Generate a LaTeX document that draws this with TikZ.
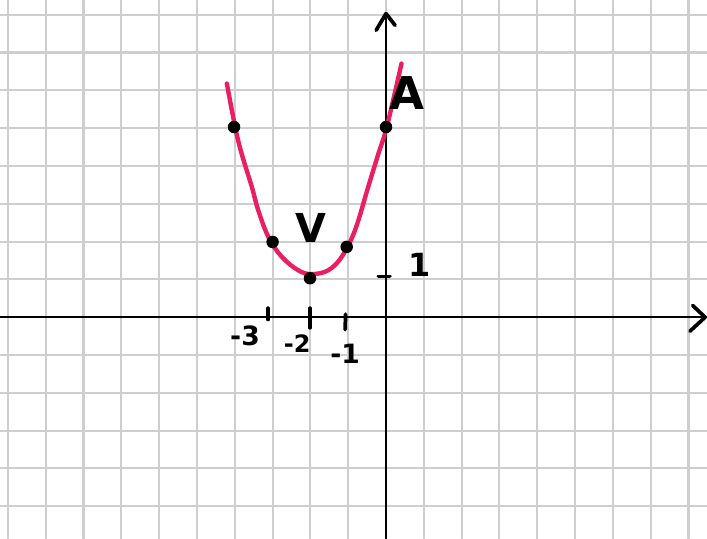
\documentclass[tikz,border=0pt]{standalone}
\usepackage{fontspec}
\setsansfont{DejaVu Sans}
\usetikzlibrary{calc}

\definecolor{curvepink}{RGB}{233,30,99}
\definecolor{gridgray}{RGB}{206,206,206}

\begin{document}
\begin{tikzpicture}[line cap=round, line join=round,
    dot/.style={circle, fill=black, inner sep=0pt, minimum size=0.33cm},
    lbl/.style={font=\sffamily\bfseries, inner sep=0pt},
    axis/.style={black, line width=1.8pt}]

        \def\xmin{-10.21} % left edge of the squared paper
        \def\xmax{8.49}
        \def\ymin{-5.85}
        \def\ymax{8.39}

        \useasboundingbox (\xmin,\ymin) rectangle (\xmax,\ymax);
        \fill[white] (\xmin,\ymin) rectangle (\xmax,\ymax);
        \draw[gridgray, line width=1.6pt] (\xmin,\ymin) grid (\xmax,\ymax);

        % axes
        \coordinate (xstart) at (\xmin,0);
        \coordinate (xtip) at (8.44,0);
        \coordinate (xarm1) at (8.11,0.31);
        \coordinate (xarm2) at (8.04,-0.37);
        \coordinate (ystart) at (0,\ymin);
        \coordinate (ytip) at (0,8.03);
        \coordinate (yarm1) at (-0.26,7.59);
        \coordinate (yarm2) at (0.24,7.72);

        \draw[axis] (xstart) -- (xtip);
        \draw[axis] (ystart) -- (ytip);
        \draw[axis, line width=2.8pt] (xarm1) -- (xtip) -- (xarm2);
        \draw[axis, line width=2.8pt] (yarm1) -- (ytip) -- (yarm2);

        % ticks
        \coordinate (t3a) at (-3.12,0.24);
        \coordinate (t3b) at (-3.12,-0.06);
        \coordinate (t2a) at (-2.01,0.24);
        \coordinate (t2b) at (-2.01,-0.28);
        \coordinate (t1a) at (-1.07,0.08);
        \coordinate (t1b) at (-1.08,-0.33);
        \coordinate (ty1a) at (-0.2,1.08);
        \coordinate (ty1b) at (0.1,1.08);

        \foreach \a/\b in {t3a/t3b, t2a/t2b, t1a/t1b, ty1a/ty1b} {
          \draw[axis, line width=2.8pt] (\a) -- (\b);
        }

        \node[lbl, font=\sffamily\bfseries\fontsize{20}{20}\selectfont] (m3) at (-3.73,-0.48) {-3};
        \node[lbl, font=\sffamily\bfseries\fontsize{18}{18}\selectfont] (m2) at (-2.35,-0.71) {-2};
        \node[lbl, font=\sffamily\bfseries\fontsize{20}{20}\selectfont] (m1) at (-1.08,-0.98) {-1};
        \node[lbl, font=\sffamily\bfseries\fontsize{24}{24}\selectfont] (one) at (0.9,1.38) {1};

        % the parabola, drawn by hand
        \draw[curvepink, line width=3.3pt] plot[smooth, tension=0.6] coordinates {
          (-4.21,6.18) (-3.99,5.03) (-3.82,4.33) (-3.55,3.45) (-3.38,2.83)
          (-3.11,2.12) (-2.76,1.60) (-2.32,1.24) (-1.97,1.14) (-1.53,1.24)
          (-1.17,1.60) (-0.82,2.30) (-0.47,3.45) (-0.20,4.33) (0.02,5.03)
          (0.41,6.71)};

        \node[dot] (pl) at (-4.02,5.03) {};
        \node[dot] (pa) at (0,5.03) {};
        \node[dot] (pm3) at (-3.0,1.99) {};
        \node[dot] (pm1) at (-1.04,1.86) {};
        \node[dot] (pv) at (-2.01,1.03) {};

        \node[lbl, font=\sffamily\bfseries\fontsize{30}{30}\selectfont] (vlabel) at (-1.98,2.35) {V};
        \node[lbl, font=\sffamily\bfseries\fontsize{34}{34}\selectfont] (alabel) at (0.56,5.93) {A};

      \end{tikzpicture}
\end{document}
